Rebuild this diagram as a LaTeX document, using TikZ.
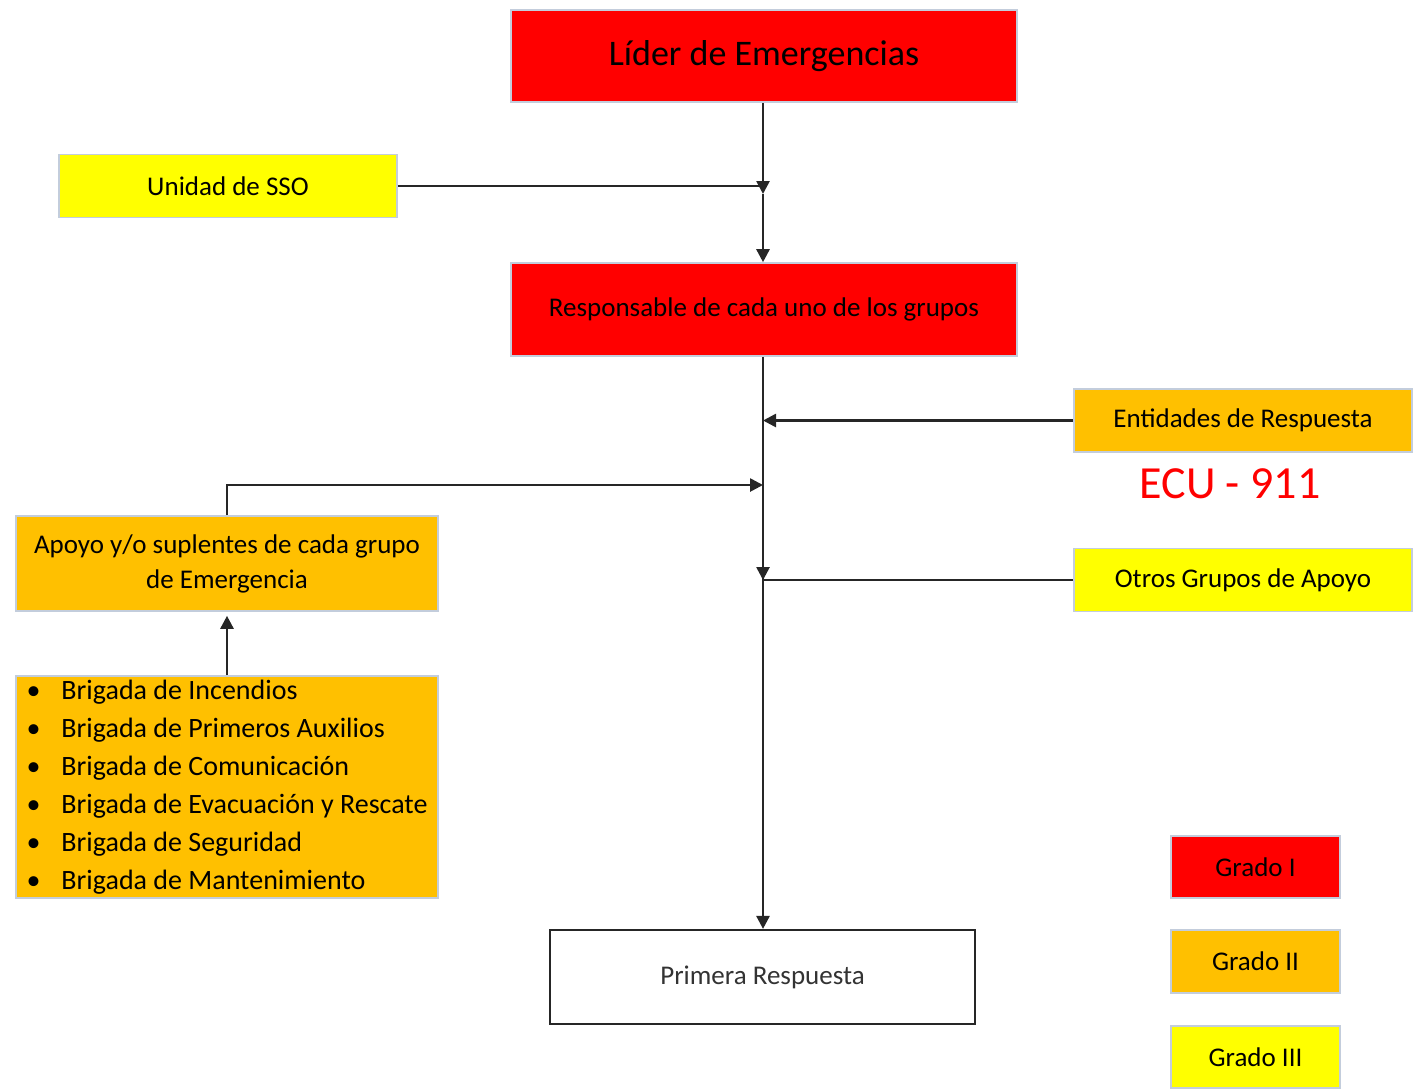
\documentclass[tikz,border=0pt]{standalone}
\usepackage{fontspec}
\setmainfont{Carlito}
\usetikzlibrary{arrows.meta}

\definecolor{rouge}{RGB}{255,0,0}
\definecolor{orange}{RGB}{255,192,0}
\definecolor{jaune}{RGB}{255,255,0}
\definecolor{bord}{RGB}{195,205,220}

\tikzset{
  boite/.style={draw=bord, line width=0.8pt, inner sep=0pt, align=center,
    font=\fontsize{13.5}{17.5}\selectfont},
  ligne/.style={line width=1.3pt, draw=black!85},
  fleche/.style={ligne, -{Triangle[length=6.5pt,width=6.5pt]}}
}

\begin{document}
\begin{tikzpicture}[x=0.5pt, y=-0.5pt]
    \useasboundingbox (0,0) rectangle (1422,1088);

    % Boites principales
    \node[boite, fill=rouge, minimum width=253pt, minimum height=46pt,
      font=\fontsize{18}{22}\selectfont] (lider) at (764,56) {Líder de Emergencias};
    \node[boite, fill=jaune, minimum width=169pt, minimum height=31.5pt] (sso) at (228,186) {Unidad de SSO};
    \node[boite, fill=rouge, minimum width=253pt, minimum height=46.5pt] (resp) at (764,309.5) {Responsable de cada uno de los grupos};
    \node[boite, fill=orange, minimum width=169pt, minimum height=31.5pt] (entid) at (1243,420.5) {Entidades de Respuesta};
    \node[text=rouge, font=\fontsize{23}{27}\selectfont] (ecu) at (1230,484) {ECU - 911};
    \node[boite, fill=orange, minimum width=211pt, minimum height=47.5pt] (apoyo) at (227,563.5) {Apoyo y/o suplentes de cada grupo\\de Emergencia};
    \node[boite, fill=jaune, minimum width=169pt, minimum height=31.5pt] (otros) at (1243,580) {Otros Grupos de Apoyo};
    \node[boite, fill=orange, minimum width=211pt, minimum height=111pt, align=left,
      font=\fontsize{14}{19}\selectfont] (brig) at (227,787)
      {\makebox[17.5pt][l]{\textbullet}Brigada de Incendios\\
       \makebox[17.5pt][l]{\textbullet}Brigada de Primeros Auxilios\\
       \makebox[17.5pt][l]{\textbullet}Brigada de Comunicación\\
       \makebox[17.5pt][l]{\textbullet}Brigada de Evacuación y Rescate\\
       \makebox[17.5pt][l]{\textbullet}Brigada de Seguridad\\
       \makebox[17.5pt][l]{\textbullet}Brigada de Mantenimiento};
    \node[boite, draw=black!85, line width=1.1pt, fill=white, text=black!80,
      minimum width=212.5pt, minimum height=47pt] (primera) at (762.5,977) {Primera Respuesta};

    % Legende
    \node[boite, fill=rouge, minimum width=84.5pt, minimum height=31pt] (grado1) at (1255.5,867) {Grado I};
    \node[boite, fill=orange, minimum width=84.5pt, minimum height=31.5pt] (grado2) at (1255.5,961.5) {Grado II};
    \node[boite, fill=jaune, minimum width=84.5pt, minimum height=31pt] (grado3) at (1255.5,1057) {Grado III};

    % Jonctions sur l'axe central
    \coordinate (jsso) at (763,186);
    \coordinate (psso) at (763,194);
    \coordinate (jent) at (763,421);
    \coordinate (japo) at (763,485);
    \coordinate (potr) at (763,564);
    \coordinate (jotr) at (763,580);

    % Liaisons
    \draw[fleche] (lider.south -| psso) -- (psso);
    \draw[fleche] (psso) -- (resp.north -| psso);
    \draw[ligne] (sso.east) -- (sso.east -| jsso);
    \draw[fleche] (resp.south -| jent) -- (primera.north -| jent);
    \draw[fleche] (entid.west) -- (entid.west -| jent);
    \draw[fleche] (apoyo.north) |- (japo);
    \draw[ligne] (otros.west) -- (otros.west -| jotr);
    \draw[fleche] (potr) -- (jotr);
    \draw[fleche] (brig.north) -- ([yshift=-2pt]apoyo.south);
  \end{tikzpicture}
\end{document}
